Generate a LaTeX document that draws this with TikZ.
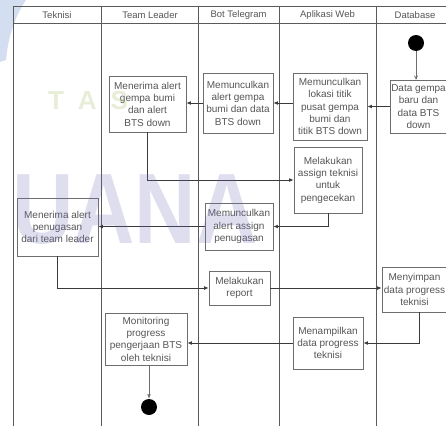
\documentclass[tikz,border=0pt]{standalone}
\usepackage{fontspec}
\setmainfont{Liberation Sans}
\usetikzlibrary{arrows.meta}
\definecolor{txt}{HTML}{555555}
\definecolor{boxc}{HTML}{6E6E6E}
\definecolor{linec}{HTML}{3A3A3A}
\definecolor{lanec}{HTML}{5A5A5A}
\definecolor{wmblue}{HTML}{6A6AB8}
\definecolor{wmgreen}{HTML}{A0B860}
\definecolor{swoosh}{HTML}{B8C8E8}
\begin{document}
\begin{tikzpicture}[x=1pt,y=-1pt,
  act/.style={draw=boxc, line width=0.8pt, align=center, font=\fontsize{10}{12.3}\selectfont, text=txt, inner sep=1pt},
  flow/.style={draw=linec, line width=0.7pt, -{Latex[length=4.5pt,width=3.8pt]}},
  startflow/.style={draw=boxc, line width=0.7pt, -{To[length=4pt,width=4pt]}},
  lane/.style={draw=lanec, line width=1pt},
  hdr/.style={font=\fontsize{9.5}{11}\selectfont, text=txt},
  dot/.style={circle, fill=black, inner sep=0pt, minimum size=16pt}]
\useasboundingbox (0,0) rectangle (446,425);
% top-left swoosh
\fill[swoosh, opacity=0.6] (0,0) -- (26,0) .. controls (14,18) and (8,38) .. (6,60) -- (0,62) -- cycle;
% swimlanes
\draw[lane] (13,7) -- (447,7);
\draw[lane] (13,24) -- (447,24);
\foreach \xx in {13,101,198,279,376} \draw[lane] (\xx,7) -- (\xx,426);
\node[hdr] (h1) at (57,15.5) {Teknisi};
\node[hdr] (h2) at (150,15.5) {Team Leader};
\node[hdr] (h3) at (238.5,15.5) {Bot Telegram};
\node[hdr] (h4) at (327.5,15.5) {Aplikasi Web};
\node[hdr] (h5) at (415,15.5) {Database};
% nodes
\node[dot] (start) at (416,43) {};
\node[act, minimum width=57pt, minimum height=53pt] (data) at (418.5,106.5) {Data gempa\\baru dan\\data BTS\\down};
\node[act, minimum width=74pt, minimum height=67pt] (web1) at (330,106.5) {Memunculkan\\lokasi titik\\pusat gempa\\bumi dan\\titik BTS down};
\node[act, minimum width=70pt, minimum height=60pt] (bot1) at (238,103) {Memunculkan\\alert gempa\\bumi dan data\\BTS down};
\node[act, minimum width=77pt, minimum height=56pt] (tl1) at (147.5,104) {Menerima alert\\gempa bumi\\dan alert\\BTS down};
\node[act, minimum width=68pt, minimum height=66pt] (web2) at (328,180) {Melakukan\\assign teknisi\\untuk\\pengecekan};
\node[act, minimum width=68pt, minimum height=47pt] (bot2) at (239,226.5) {Memunculkan\\alert assign\\penugasan};
\node[act, minimum width=81pt, minimum height=58pt] (tek1) at (57.5,227) {Menerima alert\\penugasan\\dari team leader};
\node[act, minimum width=61pt, minimum height=34pt] (bot3) at (239.5,288) {Melakukan\\report};
\node[act, minimum width=65pt, minimum height=45pt] (db2) at (414.5,289.5) {Menyimpan\\data progress\\teknisi};
\node[act, minimum width=70pt, minimum height=52pt] (web3) at (328,343) {Menampilkan\\data progress\\teknisi};
\node[act, minimum width=82pt, minimum height=52pt] (tl2) at (146,339) {Monitoring\\progress\\pengerjaan BTS\\oleh teknisi};
\node[dot] (end) at (149,407) {};
% connectors
\draw[startflow] (start) -- (data.north -| start);
\draw[flow] (data.west) -- (web1.east);
\draw[flow] (web1.west |- bot1.east) -- (bot1.east);
\draw[flow] (bot1.west) -- (tl1.east |- bot1.west);
\draw[flow] (tl1.south) |- (web2.west);
\draw[flow] (web2.south) |- (bot2.east);
\draw[flow] (bot2.west) -- (tek1.east |- bot2.west);
\draw[flow] (tek1.south) |- (bot3.west);
\draw[flow] (bot3.east) -- (db2.west |- bot3.east);
\draw[flow] ([xshift=5pt]db2.south) |- (web3.east);
\draw[flow] (web3.west) -- (tl2.east |- web3.west);
\draw[flow, draw=boxc] (tl2.south -| end) -- (end.north);
% watermark
\node[text=wmgreen, opacity=0.25, font=\fontsize{26}{26}\selectfont\bfseries, anchor=base] (wm1) at (88,110) {T\hspace{14pt}A\hspace{14pt}S};
\node[text=wmblue, opacity=0.22, font=\fontsize{100}{100}\selectfont\bfseries, anchor=base west, xscale=0.85, inner sep=0pt] (wm2) at (12,243) {UANA};
\end{tikzpicture}
\end{document}
